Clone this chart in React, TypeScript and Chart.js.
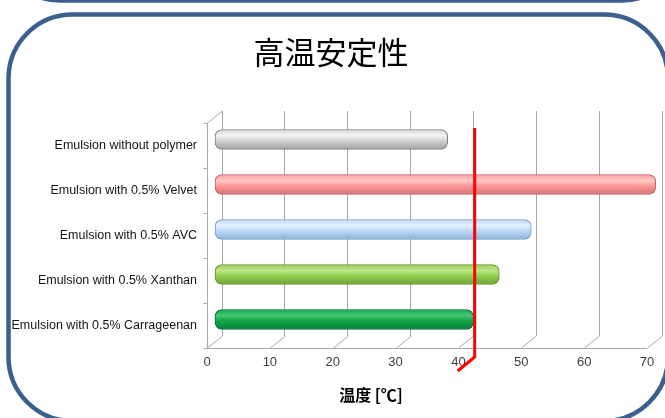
import React, { useEffect, useRef } from "react";
import { Chart, registerables } from "chart.js";

Chart.register(...registerables);

// ---- data ----
const TITLE = "高温安定性";
const X_TITLE = "温度 [℃]";
const CATEGORIES = [
  "Emulsion without polymer",
  "Emulsion with 0.5% Velvet",
  "Emulsion with 0.5% AVC",
  "Emulsion with 0.5% Xanthan",
  "Emulsion with 0.5% Carrageenan",
];
const TEMPERATURES = [37.1, 70.2, 50.4, 45.3, 41.2];
const X_MIN = 0;
const X_MAX = 70;
const X_STEP = 10;
const THRESHOLD = 40.2;

// ---- styles ----
const BAR_BASE = ["#d4d4d4", "#ff9a9a", "#bcd9f7", "#95cf52", "#14a84a"];
const BAR_LIGHT = ["#f5f5f5", "#ffcaca", "#e3f0ff", "#bde689", "#46c775"];
const BAR_DARK = ["#a0a0a0", "#d67272", "#8eb1db", "#6ea537", "#07813a"];
const BAR_EDGE = ["#7d7d7d", "#b66262", "#7b9bc3", "#5e9330", "#066a30"];
const GRID = "#a8a8a8";
const FRAME = "#3b5f8f";
const DX = -15;
const DY = 12;

const barFill = (c: any) => {
  const i = c.dataIndex;
  if (i === undefined || i === null) return BAR_BASE[0];
  const ys = c.chart.scales && c.chart.scales.y;
  if (!ys) return BAR_BASE[i];
  const cy = ys.getPixelForValue(i);
  if (!Number.isFinite(cy)) return BAR_BASE[i];
  const g = c.chart.ctx.createLinearGradient(0, cy - 10, 0, cy + 10);
  g.addColorStop(0, BAR_BASE[i]);
  g.addColorStop(0.3, BAR_LIGHT[i]);
  g.addColorStop(0.55, BAR_BASE[i]);
  g.addColorStop(1, BAR_DARK[i]);
  return g;
};

const line = (ctx: CanvasRenderingContext2D, x1: number, y1: number, x2: number, y2: number) => {
  ctx.beginPath();
  ctx.moveTo(x1, y1);
  ctx.lineTo(x2, y2);
  ctx.stroke();
};

const decor = {
  id: "decor",
  beforeDraw(chart: any) {
    const ctx = chart.ctx as CanvasRenderingContext2D;
    ctx.save();
    ctx.fillStyle = "#ffffff";
    ctx.fillRect(0, 0, chart.width, chart.height);
    ctx.strokeStyle = FRAME;
    ctx.lineWidth = 4.5;
    ctx.beginPath();
    (ctx as any).roundRect(-4, -300, 690, 300.4, 64);
    ctx.stroke();
    ctx.beginPath();
    (ctx as any).roundRect(8.5, 14.5, 659.5, 406.5, 64);
    ctx.stroke();
    ctx.restore();
  },
  beforeDatasetsDraw(chart: any) {
    chart.ctx.save();
    chart.ctx.translate(DX / 2, DY / 2);
  },
  afterDatasetsDraw(chart: any) {
    chart.ctx.restore();
  },
  afterDraw(chart: any) {
    const ctx = chart.ctx as CanvasRenderingContext2D;
    const a = chart.chartArea;
    const xs = chart.scales.x;
    const ys = chart.scales.y;
    ctx.save();
    ctx.strokeStyle = GRID;
    ctx.lineWidth = 1;
    // floor slants
    for (let v = X_MIN; v <= X_MAX; v += X_STEP) {
      const px = Math.round(xs.getPixelForValue(v)) + 0.5;
      line(ctx, px, a.bottom, px + DX, a.bottom + DY);
    }
    // front axis line
    const fy = Math.round(a.bottom + DY) + 0.5;
    line(ctx, xs.getPixelForValue(X_MIN) + DX, fy, xs.getPixelForValue(X_MAX) + DX, fy);
    // left wall
    const lx = Math.round(a.left + DX) + 0.5;
    line(ctx, lx, a.top + DY, lx, a.bottom + DY);
    line(ctx, a.left + 0.5, a.top, lx, a.top + DY);
    for (let i = 0; i <= CATEGORIES.length; i++) {
      const py = Math.round(ys.getPixelForValue(i - 0.5) + DY) + 0.5;
      line(ctx, lx - 4, py, lx, py);
    }
    // threshold red line
    const rx = xs.getPixelForValue(THRESHOLD);
    ctx.strokeStyle = "#ff0000";
    ctx.lineWidth = 3;
    ctx.beginPath();
    ctx.moveTo(rx, a.top + 17);
    ctx.lineTo(rx, a.bottom + 21);
    ctx.lineTo(rx - 17, a.bottom + 35);
    ctx.stroke();
    // axis title
    ctx.fillStyle = "#000000";
    ctx.font = 'bold 16px "Noto Sans CJK JP", sans-serif';
    ctx.textAlign = "center";
    ctx.textBaseline = "middle";
    ctx.fillText(X_TITLE, 371, 395);
    ctx.restore();
  },
};

export default function App() {
  const ref = useRef<HTMLCanvasElement>(null);
  useEffect(() => {
    const chart = new Chart(ref.current as HTMLCanvasElement, {
      type: "bar",
      data: {
        labels: CATEGORIES,
        datasets: [
          {
            data: TEMPERATURES,
            barThickness: 20,
            borderWidth: 1,
            borderRadius: 7,
            borderSkipped: false,
            clip: false as any,
            backgroundColor: barFill as any,
            borderColor: ((c: any) => BAR_EDGE[c.dataIndex] ?? "#888") as any,
          },
        ],
      },
      options: {
        indexAxis: "y",
        animation: false,
        responsive: false,
        devicePixelRatio: 1,
        layout: { padding: { top: 0, right: 3, bottom: 0, left: 0 } },
        plugins: {
          legend: { display: false },
          tooltip: { enabled: false },
          title: {
            display: true,
            text: TITLE,
            color: "#000000",
            font: { family: '"Noto Sans CJK JP", sans-serif', size: 31, weight: "normal", lineHeight: 1.2 },
            padding: { top: 33.4, bottom: 40.4 },
          },
        },
        scales: {
          x: {
            type: "linear",
            position: "bottom",
            min: X_MIN,
            max: X_MAX,
            ticks: {
              stepSize: X_STEP,
              labelOffset: DX,
              padding: 19,
              color: "#404040",
              font: { family: '"Liberation Sans", Arial, sans-serif', size: 13 },
            },
            grid: { color: GRID, drawTicks: false, lineWidth: 1 },
            border: { display: false },
            afterFit(s: any) {
              s.height = 82;
              s.paddingLeft = 0;
              s.paddingRight = 0;
            },
          },
          y: {
            type: "category",
            position: "left",
            grid: { display: false, drawTicks: false },
            border: { display: false },
            ticks: {
              labelOffset: DY,
              padding: 25,
              color: "#141414",
              font: { family: '"Liberation Sans", Arial, sans-serif', size: 12.5 },
            },
            afterFit(s: any) {
              s.width = 222;
              s.paddingTop = 0;
              s.paddingBottom = 0;
            },
          },
        },
      } as any,
      plugins: [decor],
    });
    return () => chart.destroy();
  }, []);
  return (
    <div style={{ position: "fixed", left: 0, top: 0, width: 665, height: 418, background: "#fff", overflow: "hidden" }}>
      <canvas ref={ref} width={665} height={418} style={{ display: "block", width: 665, height: 418 }} />
    </div>
  );
}
